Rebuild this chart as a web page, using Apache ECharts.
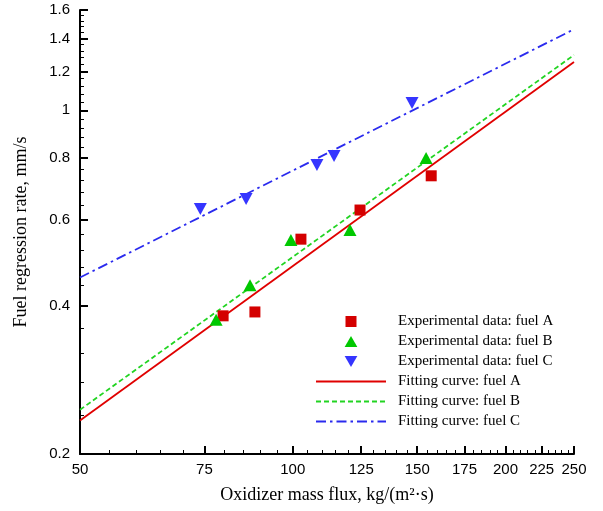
<!DOCTYPE html>
<html><head><meta charset="utf-8">
<script src="https://cdn.jsdelivr.net/npm/echarts@6/dist/echarts.min.js"></script>
<style>html,body{margin:0;padding:0;background:#fff}#c{width:603px;height:511px}</style>
</head><body><div id="c"></div>
<script>
// Experimental data
const xA = [79.7, 88.4, 102.7, 124.5, 157.0];
const yA = [0.382, 0.389, 0.547, 0.627, 0.736];
const xB = [77.9, 87.0, 99.4, 120.5, 154.4];
const yB = [0.375, 0.441, 0.545, 0.571, 0.80];
const xC = [74.0, 85.9, 108.2, 114.4, 147.5];
const yC = [0.63, 0.66, 0.774, 0.808, 1.035];
// Fitting curves (end points, straight in log-log)
const fitX = [50, 250];
const fitA = [0.234, 1.254];
const fitB = [0.246, 1.296];
const fitC = [0.457, 1.462];
// Ticks
const xMajor = [50, 75, 100, 125, 150, 175, 200, 225, 250];
const xMinor = [55, 60, 65, 70, 80, 85, 90, 95, 105, 110, 115, 120, 130, 135, 140, 145, 155, 160, 165, 170, 180, 185, 190, 195, 205, 210, 215, 220, 230, 235, 240, 245];
const yMajor = [0.2, 0.4, 0.6, 0.8, 1, 1.2, 1.4, 1.6];
const yMinor = [0.24, 0.28, 0.32, 0.36, 0.44, 0.48, 0.52, 0.56, 0.64, 0.68, 0.72, 0.76, 0.84, 0.88, 0.92, 0.96, 1.04, 1.08, 1.12, 1.16, 1.24, 1.28, 1.32, 1.36, 1.44, 1.48, 1.52, 1.56];

const names = ['Experimental data: fuel A', 'Experimental data: fuel B', 'Experimental data: fuel C',
  'Fitting curve: fuel A', 'Fitting curve: fuel B', 'Fitting curve: fuel C'];
const colA = '#d40000', colB = '#00c800', colC = '#3535ff';
const lineA = '#e00000', lineB = '#22d422', lineC = '#2a2aee';
const square = 'path://M0,0 L10,0 L10,10 L0,10 Z';
const upTri = 'path://M6,0 L12,10.4 L0,10.4 Z';
const downTri = 'path://M0,0 L12,0 L6,10.4 Z';

const pairs = (xs, ys) => xs.map((x, i) => [x, ys[i]]);
const labelFont = {fontFamily: 'Liberation Sans', fontSize: 15, color: '#000'};
const fmt = v => String(+(+v).toFixed(2));

const chart = echarts.init(document.getElementById('c'), null, {renderer: 'canvas'});
chart.setOption({
  animation: false,
  backgroundColor: '#fff',
  grid: {left: 80, right: 29, top: 10, bottom: 57},
  xAxis: [{
    type: 'log', min: 50, max: 250,
    name: 'Oxidizer mass flux, kg/(m²·s)', nameLocation: 'middle', nameGap: 32,
    nameTextStyle: {fontFamily: 'Liberation Serif', fontSize: 18, color: '#000'},
    axisLine: {show: true, lineStyle: {color: '#000', width: 2}},
    axisTick: {show: true, inside: true, length: 8, lineStyle: {color: '#000', width: 2}, customValues: xMajor},
    axisLabel: Object.assign({margin: 8, customValues: xMajor, formatter: fmt}, labelFont),
    splitLine: {show: false}
  }, {
    type: 'log', min: 50, max: 250, position: 'bottom',
    axisLine: {show: false},
    axisTick: {show: true, inside: true, length: 4, lineStyle: {color: '#000', width: 1}, customValues: xMinor},
    axisLabel: {show: false},
    splitLine: {show: false}
  }],
  yAxis: [{
    type: 'log', min: 0.2, max: 1.6,
    name: 'Fuel regression rate, mm/s', nameLocation: 'middle', nameGap: 50,
    nameTextStyle: {fontFamily: 'Liberation Serif', fontSize: 18, color: '#000'},
    axisLine: {show: true, lineStyle: {color: '#000', width: 2}},
    axisTick: {show: true, inside: true, length: 8, lineStyle: {color: '#000', width: 2}, customValues: yMajor},
    axisLabel: Object.assign({margin: 10, customValues: yMajor, formatter: fmt}, labelFont),
    splitLine: {show: false}
  }, {
    type: 'log', min: 0.2, max: 1.6, position: 'left',
    axisLine: {show: false},
    axisTick: {show: true, inside: true, length: 4, lineStyle: {color: '#000', width: 1}, customValues: yMinor},
    axisLabel: {show: false},
    splitLine: {show: false}
  }],
  legend: {
    orient: 'vertical', left: 310, top: 309,
    itemWidth: 70, itemHeight: 11, itemGap: 5,
    textStyle: {fontFamily: 'Liberation Serif', fontSize: 15, color: '#000', padding: [0, 0, 0, 7]},
    data: [
      {name: names[0], icon: square},
      {name: names[1], icon: upTri},
      {name: names[2], icon: downTri},
      {name: names[3], itemStyle: {opacity: 0}},
      {name: names[4], itemStyle: {opacity: 0}},
      {name: names[5], itemStyle: {opacity: 0}}
    ]
  },
  series: [
    {name: names[3], type: 'line', data: pairs(fitX, fitA), showSymbol: false, symbol: 'none',
      lineStyle: {color: lineA, width: 1.8, type: 'solid'}, itemStyle: {color: lineA}, z: 2},
    {name: names[4], type: 'line', data: pairs(fitX, fitB), showSymbol: false, symbol: 'none',
      lineStyle: {color: lineB, width: 1.8, type: [5, 3]}, itemStyle: {color: lineB}, z: 2},
    {name: names[5], type: 'line', data: pairs(fitX, fitC), showSymbol: false, symbol: 'none',
      lineStyle: {color: lineC, width: 1.8, type: [10, 4, 2.5, 4]}, itemStyle: {color: lineC}, z: 2},
    {name: names[0], type: 'scatter', data: pairs(xA, yA), symbol: square, symbolSize: 11,
      itemStyle: {color: colA, opacity: 1}, z: 3},
    {name: names[1], type: 'scatter', data: pairs(xB, yB), symbol: upTri, symbolSize: [13, 12],
      itemStyle: {color: colB, opacity: 1}, z: 3},
    {name: names[2], type: 'scatter', data: pairs(xC, yC), symbol: downTri, symbolSize: [13, 12],
      itemStyle: {color: colC, opacity: 1}, z: 3}
  ]
});
</script>
</body></html>
